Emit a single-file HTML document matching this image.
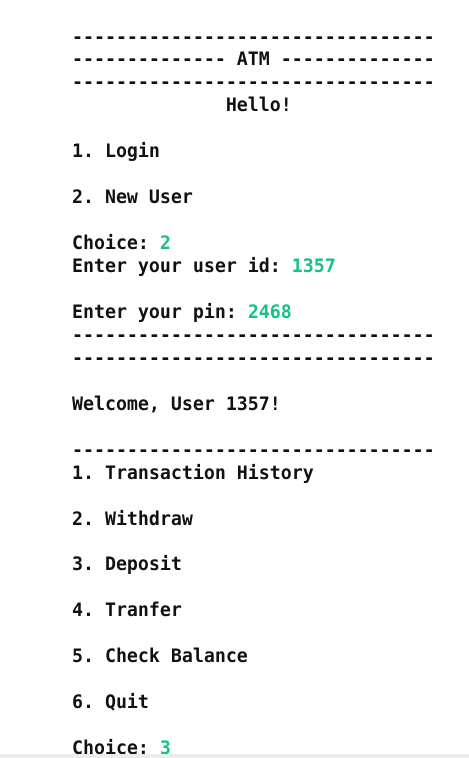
<!DOCTYPE html>
<html><head><meta charset="utf-8"><style>
html,body{margin:0;padding:0;background:#fff;width:469px;height:758px;overflow:hidden;position:relative}
pre{position:absolute;left:72px;top:26.5px;margin:0;font-family:"DejaVu Sans Mono","Liberation Mono",monospace;font-weight:bold;font-size:18.25px;line-height:22.96px;color:#111;white-space:pre}
.g{color:#16c08a}
.bar{position:absolute;left:0;top:754px;width:469px;height:4px;background:#ececec}
</style></head><body>
<pre>---------------------------------
-------------- ATM --------------
---------------------------------
              Hello!

1. Login

2. New User

Choice: <span class="g">2</span>
Enter your user id: <span class="g">1357</span>

Enter your pin: <span class="g">2468</span>
---------------------------------
---------------------------------

Welcome, User 1357!

---------------------------------
1. Transaction History

2. Withdraw

3. Deposit

4. Tranfer

5. Check Balance

6. Quit

Choice: <span class="g">3</span></pre>
<div class="bar"></div>
</body></html>
